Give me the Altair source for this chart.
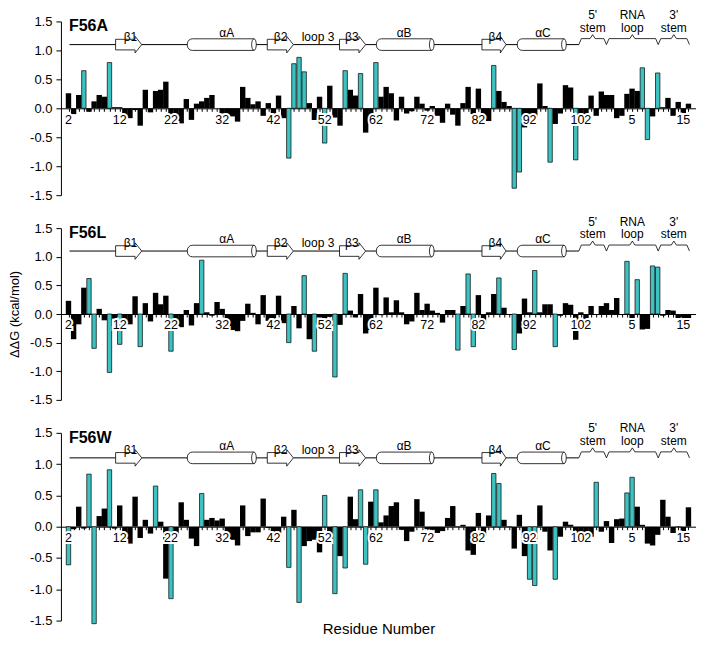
import altair as alt
import pandas as pd

FIRST_POS = 2

# ΔΔG values for positions 2..123 (protein residues 2-102, then RNA positions)
f56a_values = [
    0.26, -0.10, 0.23, 0.65, -0.06, 0.12, 0.23, 0.20, 0.79, 0.02,
    0.02, -0.14, -0.17, -0.03, -0.30, 0.32, -0.07, 0.30, 0.32, 0.46,
    -0.16, -0.16, -0.26, 0.16, -0.20, 0.08, 0.12, 0.18, 0.23, 0.00,
    -0.09, -0.11, -0.14, -0.23, 0.37, 0.18, 0.07, 0.12, -0.13, 0.09,
    -0.16, 0.22, -0.17, -0.86, 0.77, 0.88, 0.63, 0.09, -0.20, 0.20,
    -0.60, 0.39, -0.16, -0.30, 0.65, 0.32, 0.22, 0.60, -0.42, -0.16,
    0.79, 0.20, 0.37, 0.26, -0.21, 0.20, -0.09, -0.05, 0.20, 0.08,
    -0.04, 0.04, -0.13, -0.25, 0.08, -0.11, -0.30, 0.09, 0.37, -0.10,
    0.34, -0.16, -0.22, 0.74, 0.30, 0.11, 0.04, -1.38, -1.10, -0.33,
    -0.17, -0.14, 0.43, 0.04, -0.93, -0.27, -0.09, 0.40, 0.36, -0.89,
    -0.09, -0.14, 0.22, -0.13, 0.29, 0.23, 0.23, -0.17, -0.13, 0.25,
    0.34, 0.30, 0.70, -0.54, -0.14, 0.61, 0.02, 0.18, -0.13, 0.11,
    -0.14, 0.08,
]
f56a_cyan = [5, 10, 45, 46, 47, 48, 52, 56, 59, 62, 85, 89, 90, 96, 101, 114, 115, 117]

f56l_values = [
    0.23, -0.44, -0.18, 0.46, 0.62, -0.60, 0.09, -0.11, -1.02, -0.08,
    -0.53, -0.17, -0.18, 0.31, -0.57, 0.19, -0.13, 0.37, 0.17, 0.32,
    -0.65, -0.18, -0.23, 0.07, -0.20, 0.19, 0.94, 0.03, -0.03, 0.21,
    0.09, -0.11, -0.28, -0.30, -0.12, 0.18, 0.02, -0.18, 0.33, -0.12,
    -0.15, 0.32, -0.16, -0.50, 0.14, -0.25, 0.67, -0.44, -0.65, -0.06,
    -0.16, -0.05, -1.10, -0.19, 0.71, 0.06, -0.06, 0.35, -0.34, -0.28,
    0.46, -0.02, 0.29, 0.03, 0.24, 0.03, -0.18, -0.13, 0.37, 0.07,
    0.18, 0.06, 0.02, -0.15, 0.07, 0.07, -0.63, 0.14, 0.70, -0.57,
    0.33, -0.16, 0.03, 0.35, 0.63, 0.11, 0.00, -0.62, -0.34, 0.27,
    0.03, 0.76, 0.03, 0.17, 0.17, -0.57, -0.03, 0.19, 0.16, -0.45,
    0.03, -0.15, 0.14, 0.00, 0.14, 0.19, 0.07, 0.28, 0.00, 0.92,
    -0.09, 0.60, -0.27, -0.26, 0.84, 0.82, -0.03, 0.07, 0.06, -0.07,
    -0.15, -0.08,
]
f56l_cyan = [6, 7, 10, 12, 16, 22, 28, 45, 48, 50, 54, 56, 78, 80, 81, 86, 89, 93, 97,
             111, 113, 116, 117]

f56w_values = [
    -0.61, -0.04, 0.32, -0.03, 0.84, -1.55, 0.17, 0.29, 0.91, -0.03,
    0.34, -0.16, -0.27, 0.48, -0.18, 0.11, -0.11, 0.65, 0.08, -0.83,
    -1.15, -0.15, 0.39, 0.11, -0.19, -0.31, 0.53, 0.11, 0.14, 0.10,
    0.13, -0.16, -0.21, -0.30, 0.34, -0.15, -0.09, -0.09, 0.45, -0.02,
    -0.15, -0.10, 0.16, -0.65, 0.27, -1.21, -0.31, -0.23, -0.21, -0.41,
    0.50, -0.13, -1.07, -0.47, -0.66, 0.48, 0.12, 0.59, -0.60, 0.40,
    0.59, 0.07, 0.18, 0.33, 0.39, -0.05, -0.23, -0.08, 0.44, 0.24,
    -0.04, -0.05, -0.10, -0.07, 0.14, 0.33, 0.01, 0.03, -0.38, -0.45,
    0.22, -0.15, 0.18, 0.85, 0.69, 0.11, 0.01, -0.35, 0.19, -0.47,
    -0.84, -0.94, 0.34, -0.08, -0.38, -0.84, -0.16, 0.08, 0.03, -0.10,
    -0.13, -0.13, -0.16, 0.71, -0.08, 0.09, -0.26, 0.12, 0.13, 0.54,
    0.79, 0.32, 0.03, -0.27, -0.30, -0.13, 0.43, 0.16, -0.10, 0.01,
    -0.12, 0.31,
]
f56w_cyan = [2, 6, 7, 10, 19, 22, 28, 45, 47, 52, 54, 56, 59, 60, 62, 85, 86, 92, 93, 97,
             105, 111, 112]

tick_positions = [2, 12, 22, 32, 42, 52, 62, 72, 82, 92, 102, 112, 122]
tick_labels = ["2", "12", "22", "32", "42", "52", "62", "72", "82", "92", "102", "5", "15"]
y_ticks = [-1.5, -1.0, -0.5, 0.0, 0.5, 1.0, 1.5]

# secondary-structure annotation
strand_names = ["β1", "β2", "β3", "β4"]
strand_start = [11.2, 40.8, 54.9, 82.7]
strand_body_end = [15.0, 44.6, 58.7, 86.3]
strand_tip = [16.3, 45.9, 60.0, 87.4]
strand_label_x = [14.1, 43.4, 57.3, 85.3]
helix_names = ["αA", "αB", "αC"]
helix_start = [25.2, 62.1, 89.6]
helix_end = [38.2, 72.9, 98.7]
helix_label_x = [32.9, 67.5, 94.6]
bracket_top = ["5'", "RNA", "3'"]
bracket_bottom = ["stem", "loop", "stem"]
bracket_start = [101.6, 107.0, 117.1]
bracket_end = [107.0, 117.1, 123.2]
loop_label = "loop 3"
loop_label_x = 50.7
backbone_start = 2.2

CYAN = "#3EC1C1"
FONT = "Liberation Sans"
LINE_Y = 1.1
WIDTH = 636
X_DOMAIN = [1.5, 123.5]

y_label_expr = "datum.value < 0 ? '-' + format(abs(datum.value), '.1f') : format(datum.value, '.1f')"


def panel(name, values, cyan, height, show_ytitle, xtitle):
    ppu = height / 3.0
    xs = alt.Scale(domain=X_DOMAIN, nice=False, zero=False)
    ys = alt.Scale(domain=[-1.5, 1.5], nice=False, zero=False)
    positions = list(range(FIRST_POS, FIRST_POS + len(values)))
    bars = pd.DataFrame({
        "pos": positions,
        "value": values,
        "kind": ["cyan" if p in cyan else "black" for p in positions],
    })

    axis_kwargs = dict(
        values=positions, tickCount=1000, labels=False, tickSize=3, tickColor="black",
        domainColor="black", grid=False, offset=-height / 2.0,
    )
    if xtitle:
        axis_kwargs.update(title=xtitle, titleY=height / 2.0 + 1, titleBaseline="top",
                           titleFontSize=15, titleFontWeight="normal", titleFont=FONT,
                           titleColor="black")
    else:
        axis_kwargs.update(title=None)
    xaxis = alt.Axis(**axis_kwargs)
    yaxis = alt.Axis(
        values=y_ticks, tickCount=100, labelOverlap=False, labelExpr=y_label_expr,
        tickSize=5, tickColor="black", domainColor="black", labelColor="black",
        labelFontSize=13, labelFont=FONT, labelPadding=4, grid=False,
        title="ΔΔG (kcal/mol)", titleFontSize=13, titleFontWeight="normal",
        titleFont=FONT, titlePadding=8,
        titleColor="black" if show_ytitle else "transparent",
    )

    black = alt.Chart(bars[bars.kind == "black"]).mark_bar(color="black", size=5.4).encode(
        x=alt.X("pos:Q", scale=xs, axis=xaxis),
        y=alt.Y("value:Q", scale=ys, axis=yaxis),
        y2=alt.datum(0),
    )
    cyanbars = alt.Chart(bars[bars.kind == "cyan"]).mark_bar(
        fill=CYAN, stroke="black", strokeWidth=0.7, size=4.4
    ).encode(
        x=alt.X("pos:Q", scale=xs),
        y=alt.Y("value:Q", scale=ys),
        y2=alt.datum(0),
    )

    # x tick labels (with a white halo like the boxed labels of the original)
    tl = pd.DataFrame({"pos": tick_positions, "text": tick_labels})
    halo = alt.Chart(tl).mark_text(
        font=FONT, fontSize=12.5, baseline="middle", dy=11.5, fill="white",
        stroke="white", strokeWidth=4,
    ).encode(x=alt.X("pos:Q", scale=xs), y=alt.datum(0), text="text:N")
    tlabels = alt.Chart(tl).mark_text(
        font=FONT, fontSize=12.5, baseline="middle", dy=11.5, color="black",
    ).encode(x=alt.X("pos:Q", scale=xs), y=alt.datum(0), text="text:N")

    # backbone line, broken at the strands (arrows are open white shapes)
    seg_starts = [backbone_start] + strand_tip
    seg_ends = strand_start + [bracket_start[0]]
    brows0 = []
    for i, (a, b) in enumerate(zip(seg_starts, seg_ends)):
        brows0 += [dict(seg=i, pos=a, y=LINE_Y), dict(seg=i, pos=b, y=LINE_Y)]
    bb_line = alt.Chart(pd.DataFrame(brows0)).mark_line(color="black", strokeWidth=1).encode(
        x=alt.X("pos:Q", scale=xs), y=alt.Y("y:Q", scale=ys), detail="seg:N"
    )

    # strands as block-arrow outlines
    h = 5.3 / ppu
    H = 8.3 / ppu
    rows = []
    for n, a, b, t in zip(strand_names, strand_start, strand_body_end, strand_tip):
        pts = [(a, LINE_Y - h), (a, LINE_Y + h), (b, LINE_Y + h), (b, LINE_Y + H),
               (t, LINE_Y), (b, LINE_Y - H), (b, LINE_Y - h), (a, LINE_Y - h)]
        for i, (px, py) in enumerate(pts):
            rows.append(dict(name=n, pos=px, y=py, o=i))
    arrows = alt.Chart(pd.DataFrame(rows)).mark_line(
        color="black", strokeWidth=0.8
    ).encode(
        x=alt.X("pos:Q", scale=xs), y=alt.Y("y:Q", scale=ys),
        detail="name:N", order="o:Q",
    )

    # helices as cylinders
    hc = 5.8 / ppu
    hel = pd.DataFrame({"name": helix_names, "a": helix_start, "b": helix_end,
                        "top": [LINE_Y + hc] * 3, "bot": [LINE_Y - hc] * 3,
                        "y": [LINE_Y] * 3})
    cyl = alt.Chart(hel).mark_rect(
        fill="white", stroke="black", strokeWidth=0.8,
        cornerRadiusTopLeft=5, cornerRadiusBottomLeft=5,
    ).encode(
        x=alt.X("a:Q", scale=xs), x2="b:Q", y=alt.Y("top:Q", scale=ys), y2="bot:Q"
    )
    ell = alt.Chart(hel).mark_point(
        shape="M0,-1A0.4,1,0,1,1,0,1A0.4,1,0,1,1,0,-1Z",
        size=(2 * 5.8) ** 2, filled=True, fill="white", stroke="black",
        strokeWidth=0.8, opacity=1,
    ).encode(x=alt.X("b:Q", scale=xs), y=alt.Y("y:Q", scale=ys))

    # RNA brackets
    dh = 6.0 / ppu
    dp = 10.0 / ppu
    brows = []
    for n, a, b in zip(bracket_bottom, bracket_start, bracket_end):
        c = (a + b) / 2.0
        pts = [(a, LINE_Y), (a + 0.5, LINE_Y + dh), (c - 0.5, LINE_Y + dh),
               (c, LINE_Y + dp), (c + 0.5, LINE_Y + dh), (b - 0.5, LINE_Y + dh),
               (b, LINE_Y)]
        for i, (px, py) in enumerate(pts):
            brows.append(dict(name=f"{n}{a}", pos=px, y=py, o=i))
    brackets = alt.Chart(pd.DataFrame(brows)).mark_line(
        color="black", strokeWidth=0.8
    ).encode(
        x=alt.X("pos:Q", scale=xs), y=alt.Y("y:Q", scale=ys),
        detail="name:N", order="o:Q",
    )

    # labels
    lab = pd.DataFrame({
        "pos": strand_label_x + helix_label_x + [loop_label_x],
        "y": [LINE_Y + 8.0 / ppu] * 4 + [LINE_Y + 12.0 / ppu] * 3 + [LINE_Y + 7.7 / ppu],
        "text": strand_names + helix_names + [loop_label],
    })
    labels = alt.Chart(lab).mark_text(
        font=FONT, fontSize=12, color="black", baseline="middle"
    ).encode(x=alt.X("pos:Q", scale=xs), y=alt.Y("y:Q", scale=ys), text="text:N")

    centers = [(a + b) / 2.0 for a, b in zip(bracket_start, bracket_end)]
    blab = pd.DataFrame({
        "pos": centers + centers,
        "y": [LINE_Y + 29.5 / ppu] * 3 + [LINE_Y + 17.0 / ppu] * 3,
        "text": bracket_top + bracket_bottom,
    })
    blabels = alt.Chart(blab).mark_text(
        font=FONT, fontSize=12, color="black", baseline="middle",
    ).encode(x=alt.X("pos:Q", scale=xs), y=alt.Y("y:Q", scale=ys), text="text:N")

    title = alt.Chart(pd.DataFrame({"t": [name]})).mark_text(
        font=FONT, fontSize=16, fontWeight="bold", color="black", align="left",
        baseline="alphabetic",
    ).encode(x=alt.value(8), y=alt.value(10), text="t:N")

    return alt.layer(
        black, cyanbars, halo, tlabels, bb_line, arrows, cyl, ell, brackets,
        labels, blabels, title
    ).properties(width=WIDTH, height=height)


p1 = panel("F56A", f56a_values, f56a_cyan, 174, False, None)
p2 = panel("F56L", f56l_values, f56l_cyan, 172, True, None)
p3 = panel("F56W", f56w_values, f56w_cyan, 188, False, "Residue Number")

chart = alt.vconcat(p1, p2, p3, spacing=33, bounds="flush").properties(
    padding=0
).configure_view(stroke=None)

chart.save("out.html", embed_options={"renderer": "svg", "actions": False})
